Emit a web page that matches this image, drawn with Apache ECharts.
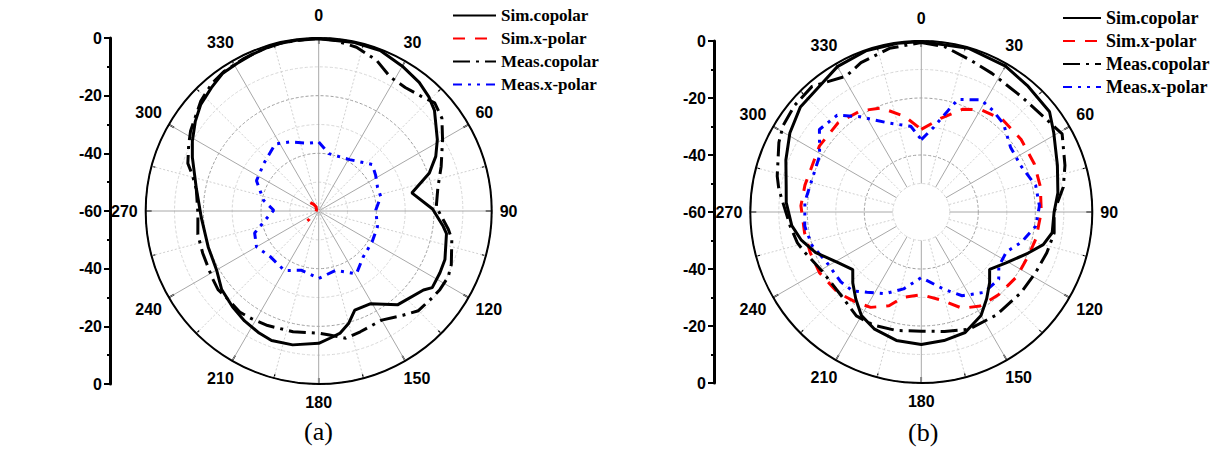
<!DOCTYPE html>
<html>
<head>
<meta charset="utf-8">
<script src="https://cdn.jsdelivr.net/npm/echarts@6/dist/echarts.min.js"></script>
<style>
html,body{margin:0;padding:0;background:#fff;}
#chart{width:1214px;height:454px;}
</style>
</head>
<body>
<div id="chart"></div>
<script>
// ---- data: [angle (deg), level (dB)] ----
const seriesNames = ['Sim.copolar', 'Sim.x-polar', 'Meas.copolar', 'Meas.x-polar'];
const angleTicks = [0, 30, 60, 90, 120, 150, 180, 210, 240, 270, 300, 330];
const diagonalTicks = [30, 150, 210, 330];
const levelTicks = [0, -20, -40, -60, -40, -20, 0];
const panelLabels = ['(a)', '(b)'];

const aSimCo = [[0,-0.3],[12,-0.3],[21,-0.4],[30,-2.0],[38,-3.4],[44,-5.0],[49,-6.8],[59,-12.0],[65,-15.2],[71,-19.4],[79,-27.1],[89,-20.5],[97,-16.5],[100,-15.0],[111,-13.1],[117,-12.8],[124,-12.5],[127,-14.5],[140,-17.5],[151,-23.2],[160,-23.4],[165,-19.7],[170,-17.0],[175,-15.7],[180,-14.1],[191,-12.7],[200,-12.2],[206,-12.9],[214,-14.0],[222,-15.3],[231,-16.7],[240,-19.1],[252,-19.7],[267,-19.2],[281,-16.7],[293,-12.4],[299,-9.9],[306,-7.1],[312,-4.9],[319,-3.3],[325,-1.8],[331,-1.5],[337,-1.0],[345,-0.2],[353,-0.3]];
const aSimX = [[315,-55.9],[323,-57.1],[327,-58.3],[297,-59.2],[239,-58.6],[232,-57.2],[229,-55.7],[229,-54.8]];
const aMeasCo = [[0,-0.2],[5,-0.5],[13,-1.7],[21,-4.0],[28,-7.3],[35,-7.7],[42,-6.6],[47,-5.0],[53,-6.5],[60,-10.4],[70,-14.8],[79,-17.9],[88,-19.2],[94,-16.7],[98,-14.6],[102,-12.8],[112,-10.4],[117,-9.6],[123,-9.9],[127,-10.4],[135,-11.1],[141,-13.5],[150,-16.3],[161,-15.7],[168,-14.9],[175,-16.8],[180,-17.6],[192,-17.2],[204,-16.5],[212,-16.0],[218,-15.5],[225,-16.1],[232,-15.7],[238,-16.4],[250,-17.2],[259,-17.3],[269,-18.1],[280,-16.9],[286,-14.4],[290,-11.7],[297,-9.4],[302,-7.6],[313,-4.1],[320,-2.3],[326,-1.5],[334,-1.1],[341,-0.6],[348,-0.3],[357,-0.2]];
const aMeasX = [[0,-36.1],[10,-39.8],[31,-39.2],[49,-35.4],[58,-36.7],[68,-38.0],[77,-37.9],[89,-40.2],[105,-38.9],[120,-38.6],[136,-37.8],[149,-34.6],[164,-38.6],[180,-36.6],[196,-38.6],[210,-36.2],[227,-36.9],[240,-35.1],[251,-36.5],[262,-41.8],[271,-44.4],[281,-40.5],[296,-36.0],[311,-34.8],[327,-32.3],[337,-34.0],[351,-36.2]];

const bSimCo = [[0,-0.2],[16,-0.2],[30,-0.9],[40,-2.1],[52,-2.9],[59,-5.8],[71,-9.5],[82,-11.6],[90,-13.4],[99,-13.5],[105,-15.7],[111,-19.8],[121,-25.3],[130,-28.7],[136,-25.5],[143,-21.9],[150,-18.1],[160,-15.0],[170,-14.2],[180,-13.5],[191,-14.1],[202,-15.8],[210,-18.0],[217,-21.8],[224,-25.4],[230,-28.6],[239,-25.7],[249,-20.3],[257,-16.7],[264,-14.3],[274,-12.5],[281,-11.7],[291,-9.1],[301,-6.2],[311,-3.8],[321,-3.2],[330,-1.1],[341,-0.2],[352,-0.2]];
const bSimX = [[0,-31.0],[12,-26.3],[22,-21.1],[30,-18.5],[41,-16.8],[54,-16.7],[67,-16.9],[78,-17.3],[90,-17.9],[103,-18.7],[112,-19.4],[124,-19.5],[137,-20.3],[148,-21.1],[157,-23.3],[166,-27.9],[180,-31.0],[192,-29.4],[199,-25.2],[208,-22.1],[216,-20.9],[226,-19.3],[239,-18.4],[250,-18.5],[260,-18.4],[273,-17.7],[283,-18.1],[303,-17.4],[317,-17.2],[329,-18.6],[339,-20.9],[350,-25.9]];
const bMeasCo = [[0,-0.5],[8,-1.4],[18,-4.0],[27,-5.4],[41,-6.4],[54,-5.3],[61,-3.5],[72,-7.0],[80,-9.4],[90,-13.4],[99,-12.8],[108,-13.7],[118,-14.6],[129,-15.0],[144,-15.3],[158,-15.6],[169,-17.3],[180,-18.2],[192,-17.5],[203,-16.9],[212,-17.0],[224,-19.4],[239,-19.5],[251,-16.7],[256,-15.2],[264,-13.7],[279,-9.4],[284,-7.9],[296,-4.4],[302,-2.8],[310,-1.9],[319,-1.6],[331,-5.5],[338,-3.5],[349,-1.5]];
const bMeasX = [[0,-34.6],[8,-30.2],[15,-22.9],[18,-18.5],[28,-15.4],[35,-16.4],[43,-17.7],[54,-21.3],[65,-21.5],[77,-18.8],[87,-18.5],[97,-19.5],[107,-23.4],[115,-27.0],[125,-26.8],[131,-24.0],[142,-24.2],[154,-27.3],[164,-31.9],[180,-37.0],[193,-32.3],[204,-28.6],[214,-26.0],[221,-23.3],[229,-22.6],[242,-22.4],[253,-19.9],[263,-18.8],[275,-19.0],[287,-20.0],[299,-19.2],[309,-14.0],[319,-15.0],[327,-20.1],[340,-26.8],[353,-29.7]];

// ---- helpers ----
const closed = arr => arr.concat([arr[0]]);
const toPolar = arr => arr.map(p => [p[1], p[0]]); // [radius(dB), angle]

const styles = [
  {color:'#000000', type:'solid', width:3},
  {color:'#ff0000', type:[12,10], width:3},
  {color:'#000000', type:[17,6,3,6], width:3},
  {color:'#0000ff', type:[9,6,3,6,3,6], width:3}
];

function mkSeries(name, idx, polarIndex, data) {
  return {
    name: name, type:'line', coordinateSystem:'polar', polarIndex: polarIndex,
    data: toPolar(data), symbol:'none', showSymbol:false, smooth:false,
    lineStyle:{color:styles[idx].color, type:styles[idx].type, width:styles[idx].width},
    itemStyle:{color:styles[idx].color},
    z: 3, animation:false, silent:true
  };
}

const labelFont = {fontFamily:'Liberation Sans, Arial', fontWeight:'bold', fontSize:16, color:'#000'};
const dark = '#a0a0a0', light = '#d8d8d8';
const richLabels = {
  top: Object.assign({padding:[0,0,7,0]}, labelFont),
  bot: Object.assign({padding:[2,0,0,0]}, labelFont),
  up: Object.assign({padding:[0,0,13,0]}, labelFont),
  down: Object.assign({padding:[12,0,0,0]}, labelFont)
};

function angleAxis(pi, showLine) {
  return {
    polarIndex: pi, type:'value', min:0, max:360, interval:30, startAngle:90, clockwise:true,
    axisLine:{show:showLine, lineStyle:{color:'#000', width:2}},
    axisTick:{show:true, inside:true, length:6, lineStyle:{color:'#000', width:1.5}},
    minorTick:{show:true, splitNumber:2, length:4, lineStyle:{color:'#000', width:1.2}},
    splitLine:{show:true, lineStyle:{color:'#a8a8a8', width:1}},
    minorSplitLine:{show:true, lineStyle:{color:'#d0d0d0', width:1, type:[2,2]}},
    axisLabel:Object.assign({margin:8, rich:richLabels, formatter: v => {
      if (v === 0) return '{top|0}';
      if (v === 180) return '{bot|180}';
      if (diagonalTicks.indexOf(v) >= 0 || angleTicks.indexOf(v) < 0) return '';
      return String(v);
    }}, labelFont)
  };
}

// label-only angle axis for the diagonal labels (sits on a slightly smaller ring)
function diagAngleAxis(pi) {
  return {
    polarIndex: pi, type:'value', min:0, max:360, interval:30, startAngle:90, clockwise:true,
    axisLine:{show:false}, axisTick:{show:false}, splitLine:{show:false},
    axisLabel:Object.assign({margin:0, rich:richLabels, formatter: v => {
      if (v === 30 || v === 330) return '{up|' + v + '}';
      if (v === 150 || v === 210) return '{down|' + v + '}';
      return '';
    }}, labelFont)
  };
}

// outline-only angle axis (outer circle of panel b, whose grid has an empty centre)
function ringAngleAxis(pi) {
  return {
    polarIndex: pi, type:'value', min:0, max:360, interval:30, startAngle:90, clockwise:true,
    axisLine:{show:true, lineStyle:{color:'#000', width:2}},
    axisTick:{show:false}, splitLine:{show:false}, axisLabel:{show:false}
  };
}

function levelAxis(gi) {
  return {
    gridIndex: gi, type:'value', min:-60, max:60, interval:20,
    axisLine:{show:true, onZero:false, lineStyle:{color:'#000', width:3}},
    axisTick:{show:true, length:6, lineStyle:{color:'#000', width:2}},
    minorTick:{show:true, splitNumber:2, length:3, lineStyle:{color:'#000', width:2}},
    splitLine:{show:false},
    axisLabel:Object.assign({margin:8, formatter: v => String(levelTicks[Math.round((60 - v) / 20)])}, labelFont)
  };
}

const hiddenRadius = pi => ({polarIndex:pi, type:'value', min:0, max:1, show:false});

const legendText = size => ({fontFamily:'Liberation Serif, Times New Roman', fontWeight:'bold', fontSize:size, color:'#000'});
const titleText = {fontFamily:'Liberation Serif, Times New Roman', fontWeight:'normal', fontSize:26, color:'#000'};

const option = {
  backgroundColor:'#ffffff',
  animation:false,
  title:[
    {text:panelLabels[0], left:304, top:418, padding:0, textStyle:titleText},
    {text:panelLabels[1], left:908, top:419, padding:0, textStyle:titleText}
  ],
  legend:[
    {orient:'vertical', left:452, top:7, itemWidth:43, itemHeight:14, itemGap:6, padding:0, data:seriesNames,
     textStyle:legendText(17), selectedMode:false, itemStyle:{opacity:0}},
    {orient:'vertical', left:1062, top:9, itemWidth:38, itemHeight:14, itemGap:5, padding:0, data:seriesNames,
     textStyle:legendText(18), selectedMode:false, itemStyle:{opacity:0}}
  ],
  polar:[
    {center:[318.7, 211], radius:[0, 173]},
    {center:[921.3, 212], radius:[28.5, 171]},
    {center:[318.7, 211], radius:[0, 169.8]},
    {center:[921.3, 212], radius:[0, 168]},
    {center:[921.3, 212], radius:[0, 171]}
  ],
  angleAxis:[angleAxis(0, true), angleAxis(1, false), diagAngleAxis(2), diagAngleAxis(3), ringAngleAxis(4)],
  radiusAxis:[
    {polarIndex:0, type:'value', min:-60, max:0, interval:10,
     axisLine:{show:false}, axisTick:{show:false}, axisLabel:{show:false},
     splitLine:{show:true, lineStyle:{color:['#ffffff', light, dark, light, dark, light, '#000'], width:1, type:[3,2]}}},
    {polarIndex:1, type:'value', min:-50, max:0, interval:10,
     axisLine:{show:false}, axisTick:{show:false}, axisLabel:{show:false},
     splitLine:{show:true, lineStyle:{color:[light, dark, light, dark, light, '#000'], width:1, type:[3,2]}}},
    hiddenRadius(2), hiddenRadius(3), hiddenRadius(4)
  ],
  grid:[
    {left:110, top:38, width:10, height:346},
    {left:714, top:41, width:10, height:342}
  ],
  xAxis:[
    {gridIndex:0, type:'value', min:0, max:1, show:false},
    {gridIndex:1, type:'value', min:0, max:1, show:false}
  ],
  yAxis:[levelAxis(0), levelAxis(1)],
  series:[
    mkSeries(seriesNames[3], 3, 0, closed(aMeasX)),
    mkSeries(seriesNames[1], 1, 0, aSimX),
    mkSeries(seriesNames[2], 2, 0, closed(aMeasCo)),
    mkSeries(seriesNames[0], 0, 0, closed(aSimCo)),
    mkSeries(seriesNames[1], 1, 1, closed(bSimX)),
    mkSeries(seriesNames[3], 3, 1, closed(bMeasX)),
    mkSeries(seriesNames[2], 2, 1, closed(bMeasCo)),
    mkSeries(seriesNames[0], 0, 1, closed(bSimCo))
  ]
};

const chart = echarts.init(document.getElementById('chart'), null, {renderer:'svg', width:1214, height:454});
chart.setOption(option);
</script>
</body>
</html>
